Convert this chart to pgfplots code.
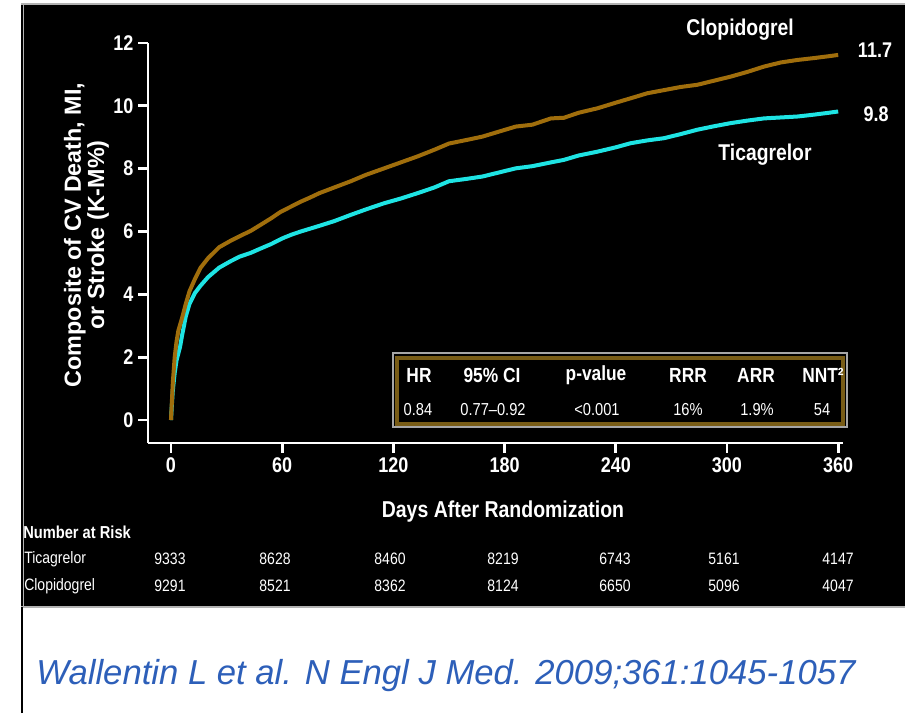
\documentclass[border=0pt]{standalone}
\usepackage{fontspec}
\setmainfont{Liberation Sans}
\usepackage{pgfplots}
\pgfplotsset{compat=1.18}
\definecolor{clop}{RGB}{160,110,12}
\definecolor{tica}{RGB}{30,228,228}
\definecolor{boxgold}{RGB}{120,92,22}
\definecolor{citeblue}{RGB}{45,95,185}
\newcommand{\fs}[1]{\fontsize{#1}{#1}\selectfont}
\newcommand{\tall}[1]{\scalebox{1}[1.18]{#1}}
\begin{document}
\begin{tikzpicture}
\useasboundingbox (0,0) rectangle (678.75pt,534.75pt);
\fill[white] (0,0) rectangle (678.75pt,534.75pt);
\fill[black] (15.75pt,79.5pt) rectangle (678.75pt,531.75pt);
\draw[gray!60, line width=0.8pt] (15.75pt,531.75pt) -- (678.75pt,531.75pt);
\draw[gray!60, line width=0.8pt] (15.75pt,79.5pt) -- (678.75pt,79.5pt);
\draw[black, line width=1.5pt] (16.5pt,0) -- (16.5pt,79.5pt);
\draw[gray!60, line width=0.6pt] (17.6pt,80pt) -- (17.6pt,531pt);

\begin{axis}[
  at={(111pt,202.5pt)}, anchor=south west,
  scale only axis, width=521.25pt, height=300pt,
  xmin=-12.4, xmax=362.6, ymin=-0.73, ymax=12,
  axis x line=bottom, axis y line=left,
  axis line style={-, white, line width=2pt},
  xtick={0,60,...,360}, ytick={0,2,...,12},
  tick align=outside, major tick length=7.5pt,
  tick style={white, line width=2pt},
  every tick label/.append style={white, font=\fs{13.5}\bfseries},
  /pgf/number format/assume math mode=true,
  xticklabel={\tall{\pgfmathprintnumber{\tick}}},
  yticklabel={\tall{\pgfmathprintnumber{\tick}}},
  clip=false,
]
\addplot[tica, line width=3pt] coordinates {
(0,0) (0.5,0.5) (1,0.95) (2,1.5) (3,1.9) (4.9,2.33) (6,2.7) (8,3.3) (10,3.7)
(13,4.05) (16,4.28) (20,4.55) (26,4.85) (32,5.05) (37,5.2) (43,5.32) (48,5.45)
(54,5.6) (60,5.78) (65,5.9) (70,6.0) (80,6.18) (88,6.33) (97,6.53) (105,6.7)
(115,6.9) (124,7.05) (133,7.22) (142,7.4) (150,7.6) (160,7.68) (168,7.75)
(177,7.88) (186,8.01) (195,8.08) (205,8.2) (212,8.28) (220,8.42) (230,8.54)
(240,8.68) (248,8.81) (257,8.9) (266,8.97) (275,9.1) (284,9.24) (293,9.35)
(302,9.45) (311,9.53) (320,9.6) (329,9.63) (338,9.66) (347,9.72) (355,9.78) (360,9.82)
};
\addplot[clop, line width=3pt] coordinates {
(0,0) (0.5,0.6) (1,1.2) (2,2.0) (3,2.5) (4,2.85) (6,3.25) (8,3.7) (10,4.1)
(13,4.5) (16,4.85) (20,5.15) (26,5.5) (32,5.7) (37,5.85) (43,6.02) (48,6.2)
(54,6.42) (59,6.62) (65,6.8) (70,6.95) (75,7.08) (80,7.22) (88,7.4) (97,7.6)
(105,7.8) (115,8.01) (124,8.2) (133,8.39) (142,8.6) (150,8.8) (160,8.92)
(168,9.02) (177,9.18) (186,9.34) (195,9.4) (205,9.6) (212,9.62) (220,9.78)
(230,9.92) (240,10.1) (248,10.24) (257,10.4) (266,10.5) (275,10.6) (284,10.67)
(293,10.8) (302,10.93) (311,11.08) (320,11.25) (329,11.38) (338,11.46)
(347,11.52) (355,11.58) (360,11.62)
};
\end{axis}

% table box
\draw[gray!70, line width=0.8pt] (294.75pt,214.5pt) rectangle (635.25pt,270pt);
\draw[boxgold, line width=3pt] (297.4pt,217.1pt) rectangle (632.6pt,266.6pt);
\begin{scope}[every node/.style={text=white, inner sep=0pt}]
\node[font=\fs{13}\bfseries] at (314.25pt,253.5pt) {\tall{HR}};
\node[font=\fs{13}\bfseries] at (369pt,253.5pt) {\tall{95\% CI}};
\node[font=\fs{13}\bfseries] at (447pt,253.5pt) {\tall{p-value}};
\node[font=\fs{13}\bfseries] at (516pt,253.5pt) {\tall{RRR}};
\node[font=\fs{13}\bfseries] at (567pt,253.5pt) {\tall{ARR}};
\node[font=\fs{13}\bfseries] at (617.25pt,253.5pt) {\tall{NNT²}};
\node[font=\fs{11}] at (313.5pt,227.25pt) {\tall{0.84}};
\node[font=\fs{11}] at (369.75pt,227.25pt) {\tall{0.77–0.92}};
\node[font=\fs{11}] at (447.75pt,227.25pt) {\tall{<0.001}};
\node[font=\fs{11}] at (516pt,227.25pt) {\tall{16\%}};
\node[font=\fs{11}] at (567.75pt,227.25pt) {\tall{1.9\%}};
\node[font=\fs{11}] at (616.5pt,227.25pt) {\tall{54}};

% curve labels
\node[font=\fs{14.5}\bfseries] at (555pt,512.25pt) {\tall{Clopidogrel}};
\node[font=\fs{14.5}\bfseries] at (573.75pt,418.5pt) {\tall{Ticagrelor}};
\node[font=\fs{13.5}\bfseries] at (656.25pt,497.25pt) {\tall{11.7}};
\node[font=\fs{13.5}\bfseries] at (657pt,449.25pt) {\tall{9.8}};

% axis titles
\node[font=\fs{17.5}\bfseries, rotate=90, align=center] at (64.9pt,358.5pt)
  {\fontsize{17.5}{17.5}\selectfont Composite of CV Death, MI,\\ or Stroke (K-M\%)};
\node[font=\fs{14.6}\bfseries] at (377.25pt,150.75pt) {\tall{Days After Randomization}};

% number at risk
\node[font=\fs{11}\bfseries, anchor=west] at (17.25pt,135.75pt) {\tall{Number at Risk}};
\node[font=\fs{10.5}, anchor=west] at (18pt,115.5pt) {\tall{Ticagrelor}};
\node[font=\fs{10.5}, anchor=west] at (18pt,95.25pt) {\tall{Clopidogrel}};
\foreach \x/\a/\b in {127.5/9333/9291, 206.25/8628/8521, 292.5/8460/8362,
  377.25/8219/8124, 461.25/6743/6650, 543/5161/5096, 628.5/4147/4047} {
  \node[font=\fs{10.5}] at (\x pt,115.5pt) {\tall{\a}};
  \node[font=\fs{10.5}] at (\x pt,95.25pt) {\tall{\b}};
}
\end{scope}

% citation
\node[font=\fs{26}\itshape, text=citeblue, inner sep=0pt] at (334.5pt,27.75pt)
  {Wallentin L et al. N Engl J Med. 2009;361:1045-1057};
\end{tikzpicture}
\end{document}
